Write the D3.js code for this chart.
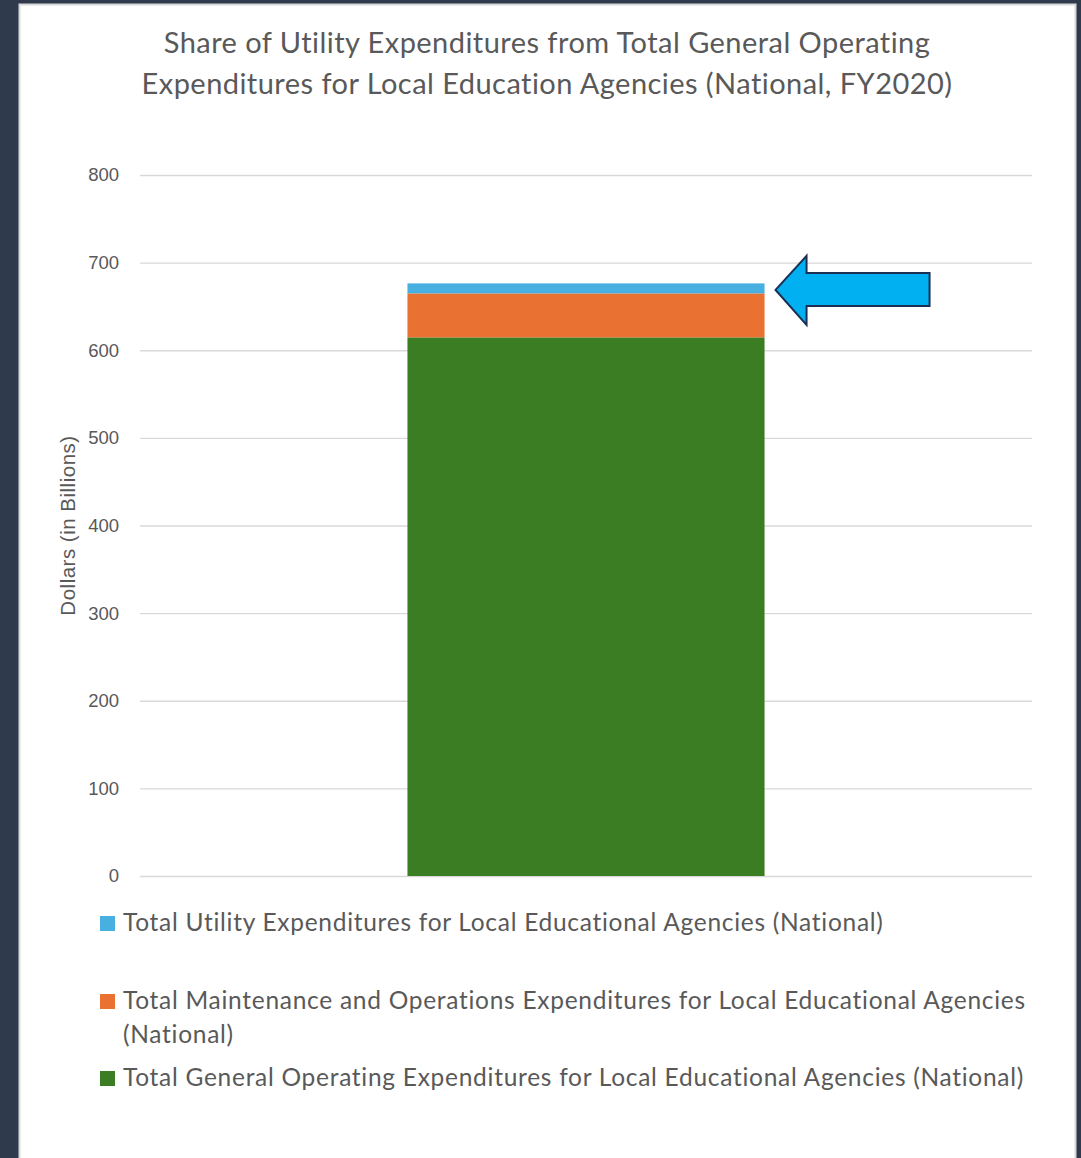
<!DOCTYPE html>
<html>
<head>
<meta charset="utf-8">
<script src="https://cdn.jsdelivr.net/npm/d3@7"></script>
<style>
  html, body { margin: 0; padding: 0; background: #2f3a4d; }
  #chart { position: absolute; left: 0; top: 0; }
</style>
</head>
<body>
<div id="chart"></div>
<script>
// Stacked single bar: LEA expenditures, national FY2020 (D3 v7)

const categories = ['FY2020'];
const seriesNames = [
	'Total General Operating Expenditures for Local Educational Agencies (National)',
	'Total Maintenance and Operations Expenditures for Local Educational Agencies (National)',
	'Total Utility Expenditures for Local Educational Agencies (National)'
];
const generalValues = [614.7];
const maintenanceValues = [50.2];
const utilityValues = [11.4];
const yTicks = [0, 100, 200, 300, 400, 500, 600, 700, 800];
const titleLines = [
	'Share of Utility Expenditures from Total General Operating',
	'Expenditures for Local Education Agencies (National, FY2020)'
];
// legend order (top to bottom) and line wraps
const legendLines = [
	['Total Utility Expenditures for Local Educational Agencies (National)'],
	['Total Maintenance and Operations Expenditures for Local Educational Agencies', '(National)'],
	['Total General Operating Expenditures for Local Educational Agencies (National)']
];
const legendKeys = [seriesNames[2], seriesNames[1], seriesNames[0]];

const W = 1081, H = 1158;
const margin = {top: 175, right: 49, bottom: 282, left: 140};
const width = W - margin.left - margin.right;
const height = H - margin.top - margin.bottom;

const color = d3.scaleOrdinal()
	.domain(seriesNames)
	.range(['#3a7d22', '#e97132', '#47b0e0']);

const svgRoot = d3.select('#chart').append('svg')
	.attr('width', W)
	.attr('height', H);

// dark page behind a white card
svgRoot.append('rect').attr('width', W).attr('height', H).attr('fill', '#2f3a4d');
svgRoot.append('rect')
	.attr('x', 19.5).attr('y', 4.5)
	.attr('width', 1056).attr('height', H)
	.attr('fill', '#ffffff')
	.attr('stroke', '#d9d9d9')
	.attr('stroke-width', 2);

// title
svgRoot.append('text')
	.attr('x', 547)
	.attr('text-anchor', 'middle')
	.attr('font-family', 'Lato, "Open Sans", sans-serif')
	.attr('font-size', 29)
	.attr('letter-spacing', 0.45)
	.attr('fill', '#595959')
	.selectAll('tspan')
	.data(titleLines)
	.enter()
	.append('tspan')
	.attr('x', 547)
	.attr('y', (d, i) => 53 + i * 41)
	.text(d => d);

const svg = svgRoot.append('g')
	.attr('transform', `translate(${margin.left},${margin.top})`);

const data = categories.map((c, i) => ({
	category: c,
	[seriesNames[0]]: generalValues[i],
	[seriesNames[1]]: maintenanceValues[i],
	[seriesNames[2]]: utilityValues[i]
}));

const series = d3.stack().keys(seriesNames)(data);

const x = d3.scaleBand()
	.domain(categories)
	.range([0, width])
	.paddingInner(0)
	.paddingOuter(0.749);

const y = d3.scaleLinear()
	.domain([0, 800])
	.range([height, 0]);

// gridlines + tick labels
const yAxis = svg.append('g')
	.call(d3.axisLeft(y).tickValues(yTicks).tickSize(-width).tickPadding(21));
yAxis.select('.domain').remove();
yAxis.selectAll('.tick line')
	.attr('stroke', '#d9d9d9')
	.attr('stroke-width', 1.3);
yAxis.selectAll('.tick text')
	.attr('fill', '#595959')
	.attr('font-family', '"Liberation Sans", Arial, sans-serif')
	.attr('font-size', 18.5);

// y axis title
svgRoot.append('text')
	.attr('transform', `translate(75,${margin.top + height * 0.5})rotate(-90)`)
	.attr('text-anchor', 'middle')
	.attr('font-family', '"Liberation Sans", Arial, sans-serif')
	.attr('font-size', 20.5)
	.attr('letter-spacing', 0.5)
	.attr('fill', '#595959')
	.text('Dollars (in Billions)');

// bars
svg.selectAll('.series')
	.data(series)
	.enter()
	.append('g')
	.attr('fill', d => color(d.key))
	.selectAll('rect')
	.data(d => d)
	.enter()
	.append('rect')
	.attr('x', d => x(d.data.category))
	.attr('y', d => y(d[1]))
	.attr('height', d => y(d[0]) - y(d[1]))
	.attr('width', x.bandwidth());

// callout arrow pointing at the utility slice
const utilSeg = series[series.length - 1][0];
const tipX = x(categories[0]) + x.bandwidth() + 11;
const tipY = y((utilSeg[0] + utilSeg[1]) / 2) + 1.5;
const arrow = [
	[0, 0], [31, -34], [31, -17], [154, -17], [154, 16], [31, 16], [31, 35]
];
svg.append('path')
	.attr('d', d3.line()(arrow.map(p => [tipX + p[0], tipY + p[1]])) + 'Z')
	.attr('fill', '#00b0f0')
	.attr('stroke', '#1b2f55')
	.attr('stroke-width', 2)
	.attr('stroke-linejoin', 'miter');

// legend
const legend = svgRoot.append('g')
	.attr('font-family', 'Lato, "Open Sans", sans-serif')
	.attr('font-size', 24.5)
	.attr('letter-spacing', 0.72)
	.attr('fill', '#595959');

const rowY = [931, 1009, 1086];
const item = legend.selectAll('.item')
	.data(legendKeys)
	.enter()
	.append('g')
	.attr('transform', (d, i) => `translate(100,${rowY[i]})`);

item.append('rect')
	.attr('y', -15)
	.attr('width', 15)
	.attr('height', 15)
	.attr('fill', d => color(d));

item.append('text')
	.selectAll('tspan')
	.data((d, i) => legendLines[i])
	.enter()
	.append('tspan')
	.attr('x', 23)
	.attr('y', (d, i) => i * 34)
	.text(d => d);
</script>
</body>
</html>
